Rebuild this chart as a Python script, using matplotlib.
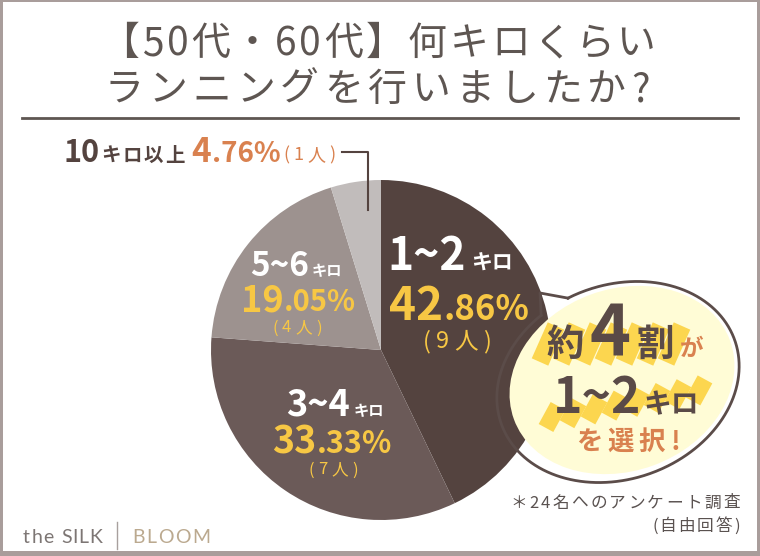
import numpy as np
import matplotlib
matplotlib.use('Agg')
import matplotlib.pyplot as plt
from matplotlib.patches import Ellipse, Rectangle

plt.rcParams['font.family'] = ['Noto Sans CJK JP', 'DejaVu Sans']

# data
ranges = ['1~2', '3~4', '5~6', '10']
units = ['キロ', 'キロ', 'キロ', 'キロ以上']
percents = [42.86, 33.33, 19.05, 4.76]
counts = [9, 7, 4, 1]
colors = ['#54433f', '#6b5a58', '#9d928f', '#c1bcbb']

title1 = '【50代・60代】何キロくらい'
title2 = 'ランニングを行いましたか?'
note1 = '＊24名へのアンケート調査'
note2 = '(自由回答)'

W, H = 760, 556
DARK = '#54433f'
TXT = '#5e5652'
YEL = '#f7c744'
ORA = '#d9814f'

fig = plt.figure(figsize=(W / 100, H / 100), dpi=100)
fig.patch.set_facecolor('white')
ax = fig.add_axes([0, 0, 1, 1])
R = fig.canvas.get_renderer()


def Y(y):
    # picture rows -> data y (up)
    return H - y


def runs(x, y, parts, ha='left', va='baseline', gap=0, width=None, z=5, family=None):
    # parts: (text, size, color, weight)
    ts, ws = [], []
    for s, size, color, weight in parts:
        t = ax.text(0, Y(y), s, fontsize=size, color=color, fontweight=weight,
                    ha='left', va=va, zorder=z)
        if family:
            t.set_fontfamily(family)
        ts.append(t)
        ws.append(t.get_window_extent(R).width)
    if width is not None and len(parts) > 1:
        gap = (width - sum(ws)) / (len(parts) - 1)
    total = sum(ws) + gap * (len(parts) - 1)
    if ha == 'center':
        x0 = x - total / 2
    elif ha == 'right':
        x0 = x - total
    else:
        x0 = x
    for t, w in zip(ts, ws):
        t.set_x(x0)
        x0 += w + gap


def chars(s, size, color, weight='normal'):
    return [(c, size, color, weight) for c in s]


# pie
ax.pie(percents, colors=colors, startangle=90, counterclock=False,
       center=(381, Y(350)), radius=170, wedgeprops=dict(linewidth=0))
ax.set_xlim(0, W)
ax.set_ylim(0, H)
ax.set_aspect('auto')
ax.axis('off')

# title
runs(378, 55, chars(title1, 28, TXT), ha='center', width=555)
runs(377, 101, chars(title2, 28, TXT), ha='center', width=545)
ax.plot([22, 738], [Y(118), Y(118)], color=TXT, lw=2)


# slice labels
def pct_parts(p, big, small, color):
    s = f'{p:.2f}%'
    a, b = s.split('.')
    return [(a, big, color, 'bold'), ('.' + b, small, color, 'bold')]


def cnt(n):
    return f'({n}人)'


runs(450, 270, [(ranges[0], 32, 'white', 'bold'), (units[0], 15, 'white', 'bold')], ha='center', gap=5)
runs(459, 320, pct_parts(percents[0], 33, 25, YEL), ha='center')
runs(457, 342, chars(cnt(counts[0]), 17, YEL), ha='center', va='center', gap=5)

runs(335, 416, [(ranges[1], 26, 'white', 'bold'), (units[1], 11, 'white', 'bold')], ha='center', gap=4)
runs(332, 453, pct_parts(percents[1], 27, 22, YEL), ha='center')
runs(333, 470, chars(cnt(counts[1]), 12, YEL), ha='center', va='center', gap=4)

runs(296, 276, [(ranges[2], 24, 'white', 'bold'), (units[2], 11, 'white', 'bold')], ha='center', gap=3)
runs(298, 311, pct_parts(percents[2], 26, 21, YEL), ha='center')
runs(297, 328, chars(cnt(counts[2]), 12, YEL), ha='center', va='center', gap=4)

runs(63, 162, [(ranges[3], 22, DARK, 'bold')])
runs(101, 162, chars(units[3], 14, DARK, 'bold'), gap=2)
runs(191, 162, pct_parts(percents[3], 24, 20, ORA), gap=1)
runs(283, 155, chars(cnt(counts[3]), 13, ORA), va='center', width=52)
ax.plot([342, 368, 368], [Y(152), Y(152), Y(210)], color=DARK, lw=1.5)

# speech bubble
ang = np.radians(20)


def ell(cx, cy, a, b, t):
    x = cx + a * np.cos(t) * np.cos(ang) - b * np.sin(t) * np.sin(ang)
    y = cy + a * np.cos(t) * np.sin(ang) + b * np.sin(t) * np.cos(ang)
    return x, y


ax.add_patch(Ellipse((622, Y(380)), 230, 182, angle=20, fc='#fffcd6', ec='none', zorder=3))
tt = np.radians(np.arange(0, 360, 0.5))
ox, oy = ell(618, Y(382), 124, 97, tt)
j1 = np.argmin((ox - 570) ** 2 + (oy - Y(303)) ** 2)
j2 = np.argmin((ox - 543) ** 2 + (oy - Y(318)) ** 2)
idx = np.r_[j2:len(tt), 0:j1 + 1] if j2 > j1 else np.arange(j2, j1 + 1)
ax.plot(ox[idx], oy[idx], color='#5b4c49', lw=2, zorder=4)
tip = (540, Y(293))
ax.plot([ox[j1], tip[0], ox[j2]], [oy[j1], tip[1], oy[j2]], color='#5b4c49', lw=2, zorder=4)

# marker strokes (brush hatching behind the bubble text)
MK = '#fcd64f'
for i in range(7):
    x = 540 + i * 21
    ax.plot([x, x + 16], [Y(362), Y(326)], color=MK, lw=13,
            solid_capstyle='butt', zorder=4.5)
for i in range(8):
    x = 546 + i * 21
    yb = 428 - i * 3.8
    ax.plot([x, x + 12], [Y(yb), Y(yb - 22)], color=MK, lw=12,
            solid_capstyle='butt', zorder=4.5)

BD = '#5a4a47'
runs(625, 356, [('約', 27, BD, 'bold'), ('4', 50, BD, 'bold'), ('割', 27, BD, 'bold'),
                ('が', 17, ORA, 'bold')], ha='center', gap=6)
runs(626, 413, [('1~2', 36, BD, 'bold'), ('キロ', 20, BD, 'bold')], ha='center', gap=3)
runs(628, 442, chars('を選択!', 19, ORA, 'bold'), ha='center', va='center', gap=5)

# notes
runs(740, 503, chars(note1, 12, '#5a5250'), ha='right', va='center', width=230)
runs(740, 526, chars(note2, 12, '#5a5250'), ha='right', va='center', width=88)

# footer
LATO = ['Lato', 'DejaVu Sans']
runs(23, 543, chars('the', 14, '#7d7674'), gap=1.5, family=LATO)
runs(61, 543, chars('SILK', 14, '#7d7674'), width=41, family=LATO)
ax.plot([117, 117], [Y(522), Y(549)], color='#a8a09e', lw=1)
runs(132, 543, chars('BLOOM', 14, '#bba98f'), width=78, family=LATO)

# frame
fc = '#a99d9b'
for r in [(0, 0, W, 5), (0, 0, 3, H), (W - 3, 0, 3, H), (0, H - 2, W, 2)]:
    ax.add_patch(Rectangle(r[:2], r[2], r[3], fc=fc, ec='none', zorder=10))

fig.savefig('out.png', dpi=100)
